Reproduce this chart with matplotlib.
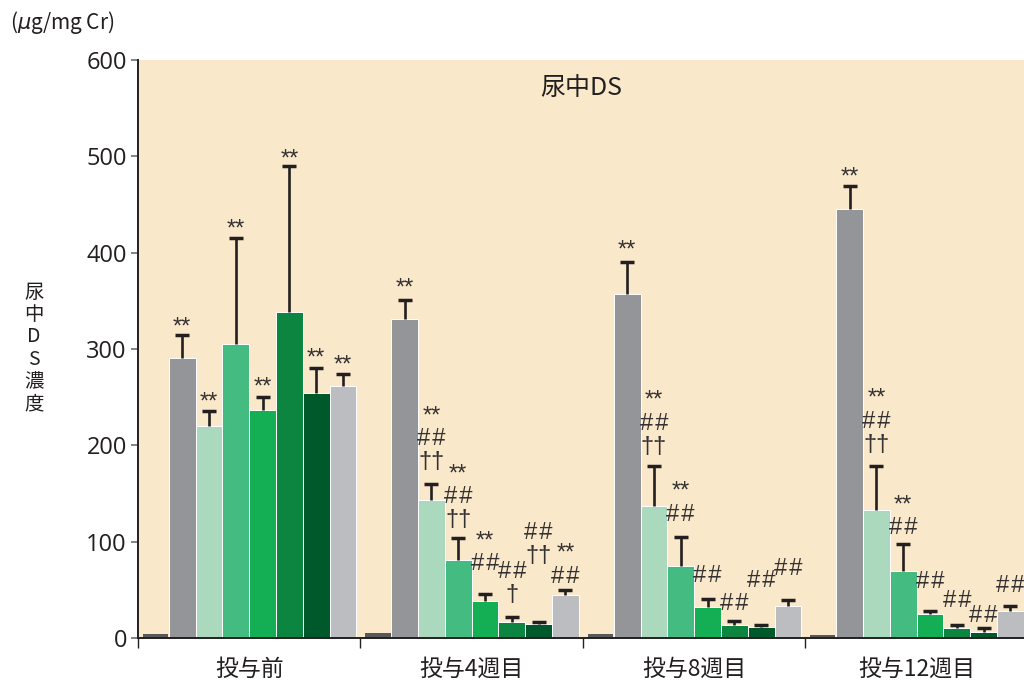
"""Urinary DS concentration by treatment period, grouped bar chart."""

import matplotlib

matplotlib.use("Agg")
import matplotlib.pyplot as plt
import numpy as np

plt.rcParams["font.family"] = ["Noto Sans CJK JP", "DejaVu Sans"]

periods = ["投与前", "投与4週目", "投与8週目", "投与12週目"]

# mean values per bar series, one entry per period
control = [4, 5, 4, 3]
series_1 = [291, 331, 357, 445]
series_2 = [220, 143, 137, 133]
series_3 = [305, 81, 75, 70]
series_4 = [237, 38, 32, 25]
series_5 = [338, 17, 13.5, 10.5]
series_6 = [254, 14.5, 11.5, 6]
series_7 = [262, 45, 33, 28]

# upper error (SD) per bar series
control_err = [0, 0, 0, 0]
series_1_err = [24, 20, 33, 24]
series_2_err = [16, 17, 42, 46]
series_3_err = [110, 23, 30, 28]
series_4_err = [13, 8, 9, 3]
series_5_err = [152, 5, 4, 3]
series_6_err = [26, 2, 2, 4]
series_7_err = [12, 5, 6, 5]

# significance marks, top line first
marks = [
    ["", "**", "**", "**", "**", "**", "**", "**"],
    ["", "**", "**/##/††", "**/##/††", "**/##", "##/†", "##/††", "**/##"],
    ["", "**", "**/##/††", "**/##", "##", "##", "##", "##"],
    ["", "**", "**/##/††", "**/##", "##", "##", "##", "##"],
]

means = [control, series_1, series_2, series_3, series_4, series_5, series_6, series_7]
errs = [control_err, series_1_err, series_2_err, series_3_err,
        series_4_err, series_5_err, series_6_err, series_7_err]

COLORS = ["#58595B", "#939598", "#AAD9BD", "#44BB80", "#14AF55",
          "#0C8540", "#00592A", "#BCBDC0"]
INK = "#231F20"
MARK_INK = "#333132"

# pixel lift of the lowest mark line's centre above the error cap (layout only)
LIFT_PX = [
    [0, 14, 15, 15, 16, 13, 16, 15],
    [0, 18, 21, 17, 31, 21, 66, 15],
    [0, 18, 18, 24, 24, 19, 46, 33],
    [0, 15, 20, 17, 31, 26, 14, 22],
]
MARK_SIZE = 17
MARK_FONT = ["Liberation Sans", "DejaVu Sans"]
# visual centre of each symbol above the text bottom, px
MARK_MID = {"*": 17.5, "#": 12.7, "†": 10.6}

fig = plt.figure(figsize=(10.24, 6.88), dpi=100)
ax = fig.add_axes([138 / 1024, 50 / 688, 886 / 1024, 578 / 688])
ax.set_facecolor("#F9E8C9")

width = 0.1205
centers = np.arange(len(periods))
px_to_pt = 72 / 100

for k, (vals, err) in enumerate(zip(means, errs)):
    x = centers + (k - 3.5) * width
    vals = np.asarray(vals, dtype=float)
    err = np.asarray(err, dtype=float)
    if k == 0:
        ax.bar(x, vals, width=width * 0.95, color=COLORS[k], linewidth=0, zorder=2)
        continue
    ax.bar(x, vals, width=width, color=COLORS[k], edgecolor="white",
           linewidth=0.7, zorder=2)
    ax.vlines(x, vals, vals + err, color=INK, linewidth=1.9, zorder=3)
    ax.plot(x, vals + err, linestyle="none", marker="_", markersize=10.5,
            markeredgewidth=2.5, color=INK, zorder=3)

    for g in range(len(periods)):
        text = marks[g][k]
        if not text:
            continue
        lines = text.split("/")
        shown = "\n".join(ln if ln[0] != "#" else "#\u200a#" for ln in lines)
        off = (LIFT_PX[g][k] - MARK_MID[lines[-1][0]]) * px_to_pt
        ax.annotate(shown, xy=(x[g], vals[g] + err[g]), xytext=(0, off),
                    textcoords="offset points", ha="center", va="bottom",
                    fontsize=MARK_SIZE, family=MARK_FONT, color=MARK_INK,
                    linespacing=1.07, zorder=4)

ax.set_xlim(-0.5, 3.483)
ax.set_ylim(0, 600)
ax.set_yticks(range(0, 601, 100))
ax.tick_params(axis="y", length=5, width=1.2, color="#6D6E71", labelsize=17,
               labelcolor=INK, pad=3)
for lab in ax.get_yticklabels():
    lab.set_family(["Open Sans", "DejaVu Sans"])

ax.set_xticks([-0.5, 0.5, 1.5, 2.5])
ax.set_xticklabels([])
ax.tick_params(axis="x", which="major", length=7.5, width=1.0, color=INK)
ax.set_xticks(centers, minor=True)
ax.set_xticklabels(periods, minor=True)
ax.tick_params(axis="x", which="minor", length=0, labelsize=16.5,
               labelcolor=INK, pad=14)

for side in ("top", "right"):
    ax.spines[side].set_visible(False)
for side in ("left", "bottom"):
    ax.spines[side].set_color(INK)
    ax.spines[side].set_linewidth(1.4)

ax.text(0.5, 0.9516, "尿中DS", transform=ax.transAxes, ha="center",
        va="center", fontsize=18, color=INK)

fig.text(10 / 1024, 1 - 22 / 688, r"($\mu$g/mg Cr)", ha="left", va="center",
         fontsize=15, color=INK)
fig.text(34 / 1024, 1 - 348 / 688, "\n".join("尿中DS濃度"), ha="center",
         va="center", fontsize=14, color=INK, linespacing=1.08)

fig.savefig("out.png", dpi=100, facecolor="white")
